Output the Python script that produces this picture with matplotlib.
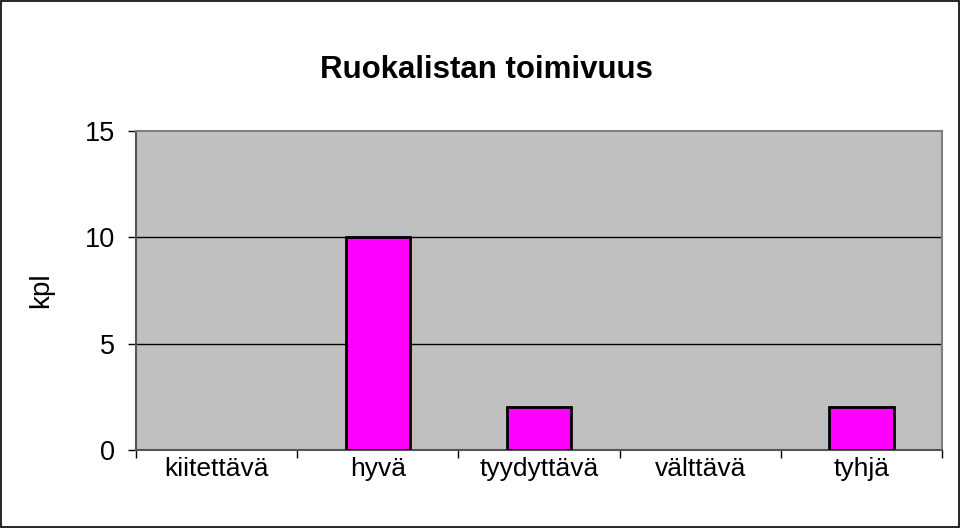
import numpy as np
import matplotlib
matplotlib.use('Agg')
import matplotlib.pyplot as plt

plt.rcParams['font.family'] = ['Liberation Sans', 'DejaVu Sans']

kategoriat = ['kiitettävä', 'hyvä', 'tyydyttävä', 'välttävä', 'tyhjä']
kpl = [0, 10, 2, 0, 2]
y_ticks = [0, 5, 10, 15]

fig = plt.figure(figsize=(9.6, 5.28), dpi=100)
ax = fig.add_axes([136/960, 1 - 450/528, (942-136)/960, (450-131)/528])
ax.set_facecolor('#C0C0C0')

x = np.arange(len(kategoriat))
for xi, v in zip(x, kpl):
    if v > 0:
        ax.bar(xi, v, width=0.4, color='#FF00FF', edgecolor='black', linewidth=2, zorder=3)

ax.set_xlim(-0.5, len(kategoriat) - 0.5)
ax.set_ylim(0, 15)
ax.set_yticks(y_ticks)
ax.set_yticklabels([str(t) for t in y_ticks], fontsize=19.5)
ax.tick_params(axis='y', length=6, width=1, color='black', pad=9)

# x-akselin jakoviivat kategorioiden väliin
ax.set_xticks(np.arange(-0.5, len(kategoriat), 1.0))
ax.set_xticklabels([])
ax.set_xticks(x, minor=True)
ax.set_xticklabels(kategoriat, minor=True, fontsize=19)
ax.tick_params(axis='x', which='major', length=6, width=1, color='black')
ax.tick_params(axis='x', which='minor', length=0, pad=5)

for t in y_ticks[1:-1]:
    ax.axhline(t, color='black', linewidth=1, zorder=1)

for s in ['top', 'right']:
    ax.spines[s].set_color('#808080')
    ax.spines[s].set_linewidth(1.5)
for s in ['left', 'bottom']:
    ax.spines[s].set_color('#555555')
    ax.spines[s].set_linewidth(1.5)

ax.set_ylabel('kpl', fontsize=20, labelpad=22)
fig.text(486/960, 1 - 70/528, 'Ruokalistan toimivuus', fontsize=22.5, fontweight='bold',
         ha='center', va='center')

fig.patches.append(plt.Rectangle((0.001, 0.001), 0.998, 0.997, transform=fig.transFigure,
                                 fill=False, edgecolor='black', linewidth=1.2))

fig.savefig('out.png', dpi=100)
